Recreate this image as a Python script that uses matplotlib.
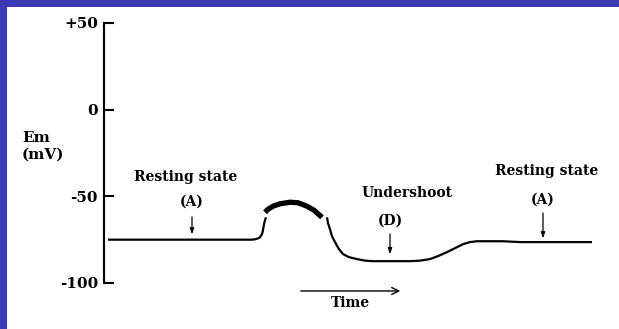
import matplotlib
matplotlib.use("Agg")
import matplotlib.pyplot as plt

# ---- data (time in arbitrary units, membrane potential in mV) ----
rest_rise_t = [4, 148, 151, 154, 156, 158, 159, 160, 161, 162]
rest_rise_v = [-75.0, -75.0, -74.8, -74.3, -73.6, -71.8, -69.5, -66.1, -63.8, -62.1]

spike_t = [161, 164, 169, 176, 186, 194, 203, 210, 218]
spike_v = [-59.2, -57.5, -55.7, -54.3, -53.4, -53.7, -55.7, -58.0, -62.1]

fall_t = [223, 224, 226, 228, 231, 235, 239, 245, 253, 261, 269, 306, 316, 326,
          334, 343, 351, 359, 366, 373, 399, 416, 488]
fall_v = [-62.1, -65.5, -69.0, -73.0, -76.4, -80.5, -83.3, -85.1, -86.2, -87.1,
          -87.4, -87.4, -87.1, -86.2, -84.5, -82.2, -79.9, -77.6, -76.4, -75.9,
          -75.9, -76.4, -76.4]

y_ticks = [-100, -50, 0, 50]
y_tick_labels = ["-100", "-50", "0", "+50"]
y_label = "Em\n(mV)"
x_label = "Time"

labels = ["Resting state", "(A)", "Undershoot", "(D)", "Resting state", "(A)"]

FONT = "DejaVu Serif"

fig = plt.figure(figsize=(6.19, 3.29), dpi=100)
fig.patch.set_facecolor("#3b38b4")
# white slide panel
bg = fig.add_axes([7 / 619, 0, 1 - 7 / 619, (329 - 7) / 329], zorder=-10)
bg.set_facecolor("white")
bg.set_xticks([])
bg.set_yticks([])
for s in bg.spines.values():
    s.set_visible(False)

ax = fig.add_axes([104 / 619, (329 - 283) / 329, 515 / 619, (283 - 23) / 329], zorder=1)
ax.set_facecolor("none")
ax.set_xlim(0, 515)
ax.set_ylim(-100, 50)

for s in ["top", "right", "bottom"]:
    ax.spines[s].set_visible(False)
ax.spines["left"].set_linewidth(1.5)
ax.spines["left"].set_color("black")

ax.set_xticks([])
ax.set_yticks(y_ticks)
ax.set_yticklabels(y_tick_labels, fontfamily=FONT, fontweight="bold", fontsize=11)
ax.tick_params(axis="y", direction="in", length=7.2, width=1.5, pad=4.3, colors="black")

# trace
ax.plot(rest_rise_t, rest_rise_v, color="black", lw=1.6, solid_capstyle="butt")
ax.plot(spike_t, spike_v, color="black", lw=3.8, solid_capstyle="butt")
ax.plot(fall_t, fall_v, color="black", lw=1.6, solid_capstyle="butt")

tk = dict(fontfamily=FONT, fontweight="bold", fontsize=10, ha="center", va="center",
          color="black")

arrow_kw = dict(arrowstyle="-|>,head_length=0.35,head_width=0.12", color="black", lw=0.9)

# left resting state
ax.text(82, -39.1, labels[0], **tk)
ax.text(88, -52.9, labels[1], **tk)
ax.annotate("", xy=(88, -73.6), xytext=(88, -60.3), arrowprops=arrow_kw)

# undershoot
ax.text(303, -48.3, labels[2], **tk)
ax.text(286, -63.8, labels[3], **tk)
ax.annotate("", xy=(286, -85.1), xytext=(286, -70.1), arrowprops=arrow_kw)

# right resting state
ax.text(443, -35.6, labels[4], **tk)
ax.text(439, -51.7, labels[5], **tk)
ax.annotate("", xy=(439, -75.9), xytext=(439, -58.0), arrowprops=arrow_kw)

# time arrow
ax.annotate("", xy=(299, -104.6), xytext=(194, -104.6), annotation_clip=False,
            arrowprops=dict(arrowstyle="->,head_length=0.5,head_width=0.25",
                            color="black", lw=1.0))
ax.text(246, -111.5, x_label, clip_on=False, **tk)

# y label
fig.text(22 / 619, 1 - 146 / 329, y_label, fontfamily=FONT, fontweight="bold",
         fontsize=11, ha="left", va="center", linespacing=1.25, zorder=5)

fig.savefig("out.png", dpi=100, facecolor=fig.get_facecolor())
